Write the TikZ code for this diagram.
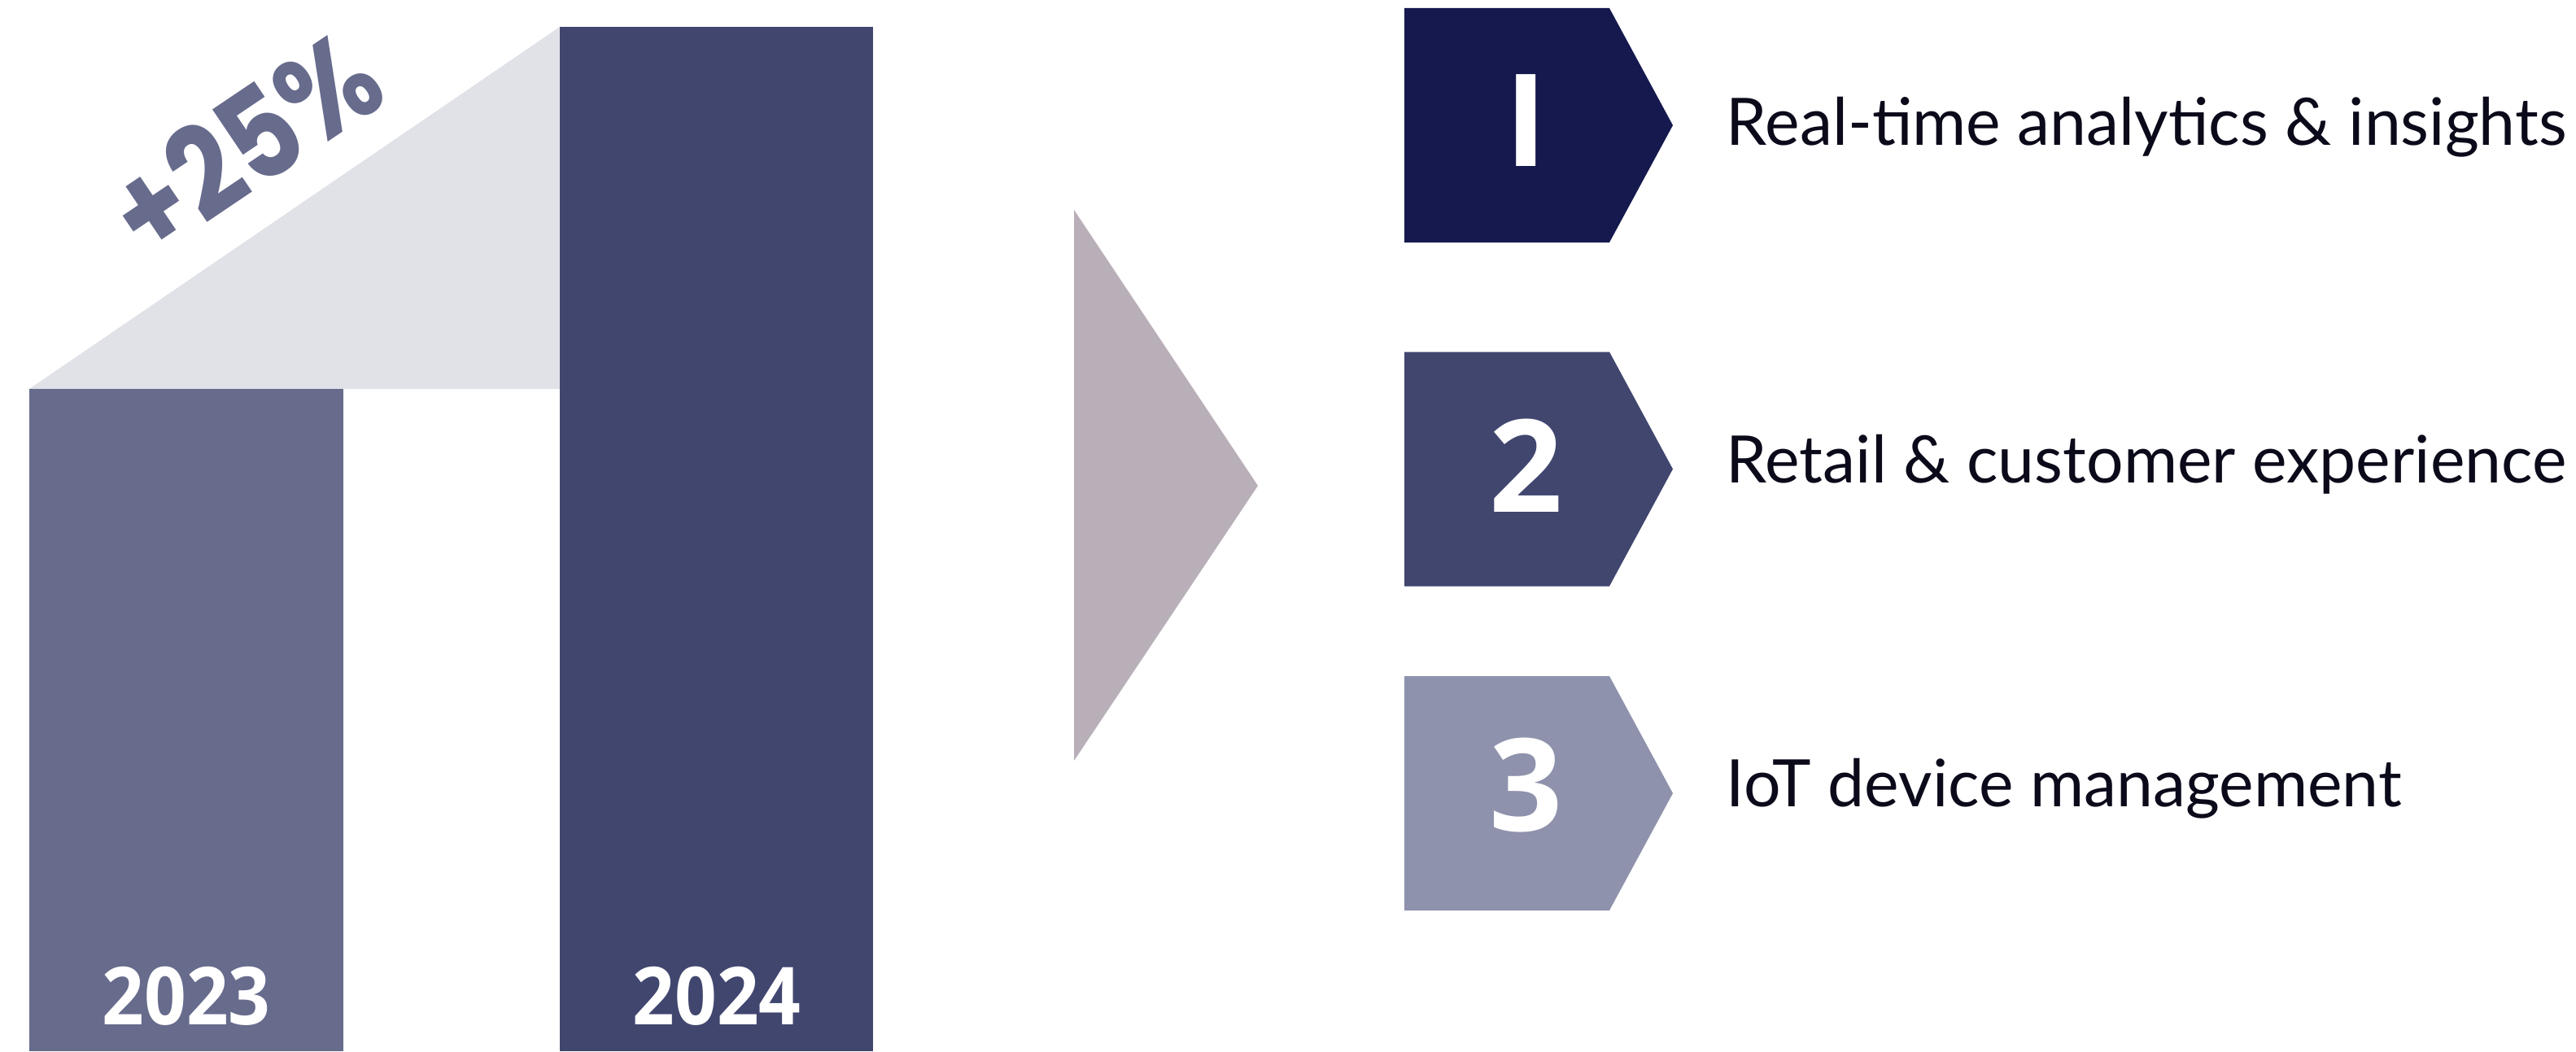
\documentclass[tikz,border=0pt]{standalone}
\usepackage{fontspec}
\setmainfont{Lato}
\newfontfamily\numfont{Open Sans}
\newfontfamily\yearfont[FakeStretch=0.92]{Open Sans}
\newfontfamily\pctfont[FakeStretch=0.86]{Poppins}
\usetikzlibrary{positioning}
\definecolor{barold}{HTML}{676B8C}
\definecolor{barnew}{HTML}{41466F}
\definecolor{growth}{HTML}{E1E2E8}
\definecolor{pointer}{HTML}{B9AFB9}
\definecolor{stepone}{HTML}{15194D}
\definecolor{steptwo}{HTML}{41466F}
\definecolor{stepthree}{HTML}{8F92AC}
\definecolor{ink}{HTML}{0B0A1A}
\tikzset{year/.style={text=white,anchor=base,inner sep=0pt,font=\yearfont\bfseries\fontsize{28}{28}\selectfont},
  stepnum/.style={text=white,inner sep=0pt,font=\numfont\bfseries\fontsize{45}{45}\selectfont},
  steptext/.style={text=ink,anchor=base west,inner sep=0pt,font=\fontsize{22.9}{22.9}\selectfont}}

\begin{document}
\begin{tikzpicture}
\useasboundingbox (0,0) rectangle (31.66,12.92);
% bars
\fill[growth] (0.36,8.14)--(6.88,12.59)--(6.88,8.14)--cycle;
\fill[barold] (0.36,0) rectangle (4.22,8.14);
\fill[barnew] (6.88,0) rectangle (10.73,12.59);
\node[year] (y23) at (2.29,0.33) {2023};
\node[year] (y24) at (8.81,0.33) {2024};
\node[rotate=34,text=barold,inner sep=0pt,font=\pctfont\bfseries\fontsize{44}{44}\selectfont] (pct) at (3.00,11.16) {+25\%};
% arrow
\fill[pointer] (13.20,10.34)--(15.46,6.95)--(13.20,3.57)--cycle;
% steps
\foreach \y/\c/\n/\ny [count=\i] in {11.38/stepone/I/11.44,7.155/steptwo/2/7.20,3.17/stepthree/3/3.27}{
  \fill[\c] (17.26,\y-1.44)--(19.78,\y-1.44)--(20.56,\y)--(19.78,\y+1.44)--(17.26,\y+1.44)--cycle;
  \node[stepnum] (num\i) at (18.76,\ny) {\n};
}
\node[steptext] (txt1) at (21.21,11.14) {Real-time analytics \& insights};
\node[steptext] (txt2) at (21.21,6.99) {Retail \& customer experience};
\node[steptext] (txt3) at (21.21,3.01) {IoT device management};
\end{tikzpicture}
\end{document}
